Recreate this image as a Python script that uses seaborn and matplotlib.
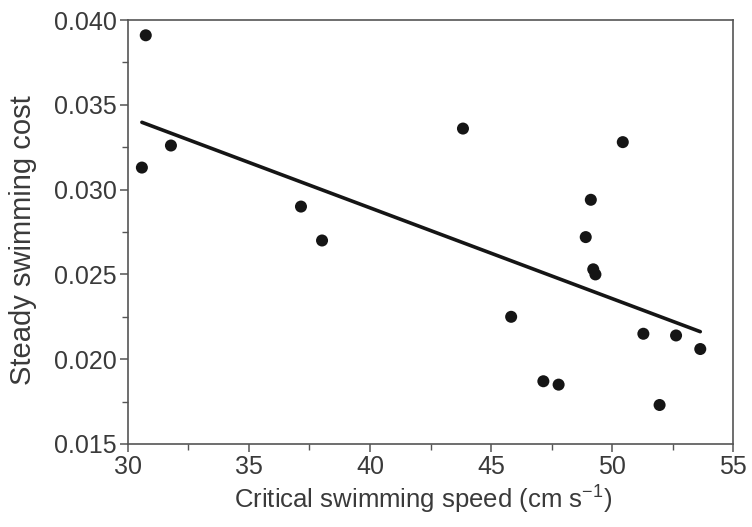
import matplotlib
matplotlib.use("Agg")
import matplotlib.pyplot as plt
import seaborn as sns
import pandas as pd
from matplotlib.ticker import MultipleLocator, FormatStrFormatter

speed = [30.74, 30.58, 31.78, 37.15, 38.02, 43.84, 50.44, 49.12, 48.91, 49.22,
         49.31, 45.83, 51.29, 52.64, 53.64, 47.16, 47.79, 51.96]
cost = [0.0391, 0.0313, 0.0326, 0.0290, 0.0270, 0.0336, 0.0328, 0.0294, 0.0272, 0.0253,
        0.0250, 0.0225, 0.0215, 0.0214, 0.0206, 0.0187, 0.0185, 0.0173]

df = pd.DataFrame({"speed": speed, "cost": cost})

sns.set_style("ticks")
plt.rcParams["font.family"] = ["Liberation Sans", "DejaVu Sans"]
plt.rcParams["mathtext.fontset"] = "custom"
plt.rcParams["mathtext.rm"] = "Liberation Sans"

fig = plt.figure(figsize=(7.52, 5.27), dpi=100)
ax = fig.add_axes([0.170, 0.1575, 0.805, 0.8045])

sns.regplot(data=df, x="speed", y="cost", ci=None, ax=ax, truncate=True,
            scatter_kws=dict(s=75, color="#151515", edgecolor="none", alpha=1),
            line_kws=dict(color="#151515", lw=2.6))

ax.set_xlim(30, 55)
ax.set_ylim(0.015, 0.040)
ax.xaxis.set_major_locator(MultipleLocator(5))
ax.xaxis.set_minor_locator(MultipleLocator(2.5))
ax.yaxis.set_major_locator(MultipleLocator(0.005))
ax.yaxis.set_minor_locator(MultipleLocator(0.0025))
ax.yaxis.set_major_formatter(FormatStrFormatter("%.3f"))

tc = "#3a3a3a"
for sp in ax.spines.values():
    sp.set_color("#555555")
    sp.set_linewidth(1.2)
ax.tick_params(which="major", length=6, width=1.1, color="#555555", labelsize=18, labelcolor=tc, pad=2)
ax.tick_params(which="minor", length=4, width=1.0, color="#555555")

ax.set_xlabel("Critical swimming speed (cm s$\\mathregular{^{-1}}$)", fontsize=18.5, color=tc, labelpad=7)
ax.set_ylabel("Steady swimming cost", fontsize=21, color=tc)
ax.xaxis.set_label_coords(0.488, -0.095)
ax.yaxis.set_label_coords(-0.150, 0.481)

fig.savefig("out.png", dpi=100)
